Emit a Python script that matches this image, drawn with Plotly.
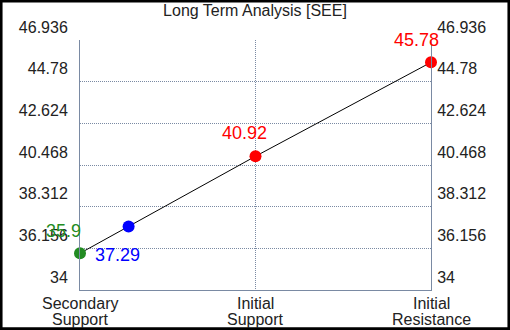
import plotly.graph_objects as go

categories = ["Secondary Support", "Initial Support", "Initial Resistance"]
y_ticks = [34, 36.156, 38.312, 40.468, 42.624, 44.78, 46.936]
secondary_support = 35.9
current_price = 37.29
initial_support = 40.92
initial_resistance = 45.78

# x position of the current price on the support line (derived from values)
cur_x = (current_price - secondary_support) / (initial_support - secondary_support)

line_x = [0, cur_x, 1, 2]
line_y = [secondary_support, current_price, initial_support, initial_resistance]

pts = [
    (0, secondary_support, "#228B22", -17, 22),
    (cur_x, current_price, "#0000FF", -11, -29),
    (1, initial_support, "#FF0000", -11, 23),
    (2, initial_resistance, "#FF0000", -15, 22),
]

FONT = "Liberation Sans, Arial"

fig = go.Figure()
fig.add_trace(go.Scatter(x=line_x, y=line_y, mode="lines",
                         line=dict(color="black", width=1), cliponaxis=False,
                         hoverinfo="skip", showlegend=False))
for x, y, c, dx, dy in pts:
    fig.add_trace(go.Scatter(x=[x], y=[y], mode="markers",
                             marker=dict(color=c, size=12), cliponaxis=False,
                             showlegend=False))
    fig.add_annotation(x=x, y=y, text=f"{y:g}", showarrow=False,
                       xshift=dx, yshift=dy,
                       font=dict(color=c, size=18, family=FONT))

# category labels, two tightly spaced lines each
for i, cat in enumerate(categories):
    first, second = cat.split(" ", 1)
    for j, part in enumerate([first, second]):
        fig.add_annotation(x=i, xref="x", y=0, yref="paper", text=part,
                           showarrow=False, yanchor="top", yshift=-3 - 16 * j,
                           font=dict(size=16, color="#222", family=FONT))

fig.add_trace(go.Scatter(x=[0], y=[34], yaxis="y2", mode="markers",
                         marker=dict(opacity=0), showlegend=False, hoverinfo="skip"))

grid_col = "#7a8aa3"
dash = "1px,1px"
yax = dict(range=[34, 46.936], tickvals=y_ticks, ticktext=[f"{v:g}" for v in y_ticks],
           showgrid=True, gridcolor=grid_col, griddash=dash, gridwidth=1,
           showline=True, linecolor=grid_col, linewidth=1, zeroline=False,
           ticks="", ticklabelshift=-13, automargin=False,
           tickfont=dict(size=16, color="#222", family=FONT))

fig.update_layout(
    width=510, height=330,
    margin=dict(l=80, r=79, t=40, b=40, autoexpand=False),
    paper_bgcolor="white", plot_bgcolor="white",
    title=dict(text="Long Term Analysis [SEE]", x=0.5, xanchor="center",
               xref="container", yref="container",
               y=1 - 10/330, yanchor="middle", automargin=False,
               font=dict(size=16, color="#222", family=FONT)),
    xaxis=dict(range=[0, 2], tickvals=[0, 1, 2], showticklabels=False,
               showgrid=True, gridcolor=grid_col, griddash=dash,
               showline=True, linecolor=grid_col, zeroline=False, ticks="",
               automargin=False),
    yaxis=dict(**yax, ticklabelstandoff=8),
    yaxis2=dict(**yax, overlaying="y", side="right", ticklabelstandoff=2),
)

fig.add_shape(type="rect", xref="paper", yref="paper",
              x0=-80/351 + 0.003, x1=1 + 79/351 - 0.003,
              y0=-40/250 + 0.005, y1=1 + 40/250 - 0.004,
              line=dict(color="black", width=3), layer="above")

fig.write_html("out.html", config={"displayModeBar": False},
               post_script="document.body.style.margin='0';document.body.style.overflow='hidden';")
